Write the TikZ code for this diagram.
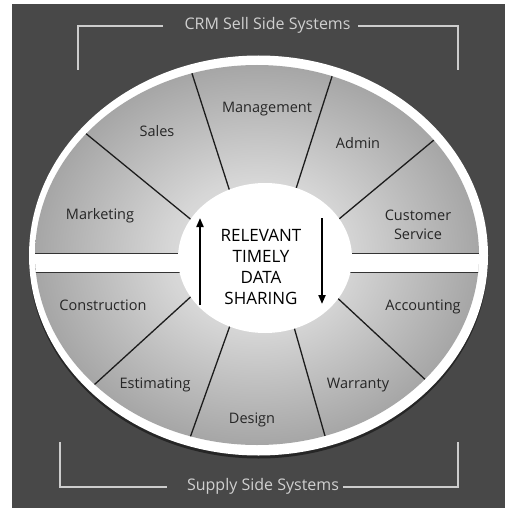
\documentclass[tikz,border=0pt]{standalone}
\usepackage{fontspec}
\setmainfont{Open Sans}
\usetikzlibrary{arrows.meta,shapes.geometric}

\definecolor{bgdark}{RGB}{72,72,72}
\definecolor{ringshadow}{RGB}{38,38,38}
\definecolor{wheelin}{RGB}{236,236,236}
\definecolor{wheelmid}{RGB}{214,214,214}
\definecolor{wheelout}{RGB}{166,166,166}
\definecolor{spokecol}{RGB}{28,28,28}
\definecolor{labelcol}{RGB}{38,38,38}
\definecolor{framecol}{RGB}{205,205,205}

% grey wheel: light near the hub, darker towards the rim
\pgfdeclareradialshading{wheelshade}{\pgfpoint{0bp}{0bp}}{%
  color(0bp)=(wheelin); color(10bp)=(wheelmid); color(25bp)=(wheelout); color(50bp)=(wheelout)}

\tikzset{
  spoke/.style={draw=spokecol, line width=1.3pt},
  bandedge/.style={draw=spokecol!90, line width=1.1pt},
  sector/.style={font=\fontsize{14.5}{19}\selectfont, text=labelcol, inner sep=0pt, align=center},
  hubtext/.style={font=\fontsize{17}{20.7}\selectfont, text=black, inner sep=0pt, align=center},
  flow/.style={draw=black, line width=2pt, -{Triangle[length=9pt,width=7pt]}},
  frame/.style={draw=framecol, line width=1.4pt},
  title/.style={font=\fontsize{16}{19}\selectfont, text=framecol!95!white, inner sep=0pt}
}

\begin{document}
\begin{tikzpicture}[x=1pt,y=-1pt]
  \useasboundingbox (0,0) rectangle (510,508);
  \fill[white] (0,0) rectangle (510,508);
  \fill[bgdark] (12,4) rectangle (505,508);

  % outer rim with a soft shadow below
  \fill[ringshadow] (258.5,258.5) ellipse [x radius=229.5pt, y radius=200pt];
  \fill[white] (258.5,255.5) ellipse [x radius=229.5pt, y radius=200pt];
  \path[shading=wheelshade] (257,255) ellipse [x radius=222pt, y radius=190pt];

  % spoke end points
  \coordinate (s1o) at (84,132);   \coordinate (s1i) at (194,222);
  \coordinate (s2o) at (188,61);   \coordinate (s2i) at (231,195);
  \coordinate (s3o) at (336,64);   \coordinate (s3i) at (294,195);
  \coordinate (s4o) at (446,130);  \coordinate (s4i) at (333,224);
  \coordinate (s5o) at (83,395);   \coordinate (s5i) at (196,292);
  \coordinate (s6o) at (186,449);  \coordinate (s6i) at (232,320);
  \coordinate (s7o) at (329,450);  \coordinate (s7i) at (292,320);
  \coordinate (s8o) at (444,397);  \coordinate (s8i) at (331,292);
  \coordinate (bandW) at (20,263);
  \coordinate (bandE) at (500,263);

  \begin{scope}
    \clip (257,255) ellipse [x radius=222pt, y radius=190pt];
    \draw[spoke] (s1o) -- (s1i);
    \draw[spoke] (s2o) -- (s2i);
    \draw[spoke] (s3o) -- (s3i);
    \draw[spoke] (s4o) -- (s4i);
    \draw[spoke] (s5o) -- (s5i);
    \draw[spoke] (s6o) -- (s6i);
    \draw[spoke] (s7o) -- (s7i);
    \draw[spoke] (s8o) -- (s8i);
    % white band splitting the two halves
    \fill[white] ([yshift=-9pt]bandW) rectangle ([yshift=9pt]bandE);
    \draw[bandedge] ([yshift=-9.5pt]bandW) -- ([yshift=-9.5pt]bandE);
    \draw[bandedge] ([yshift=9.5pt]bandW) -- ([yshift=9.5pt]bandE);
  \end{scope}

  % hub
  \node[ellipse, fill=white, inner sep=0pt, minimum width=174pt, minimum height=150pt] (hub) at (265,258) {};
  \node[hubtext] (core) at (261,267) {RELEVANT\\TIMELY\\DATA\\SHARING};

  \coordinate (upS) at (200,305);  \coordinate (upE) at (200,218);
  \coordinate (dnS) at (322,218);  \coordinate (dnE) at (322,304);
  \draw[flow] (upS) -- (upE);
  \draw[flow] (dnS) -- (dnE);

  % sector labels
  \node[sector, anchor=base] (sales) at (157,136) {Sales};
  \node[sector, anchor=base] (mgmt) at (267,112) {Management};
  \node[sector, anchor=base] (admin) at (358,148) {Admin};
  \node[sector, anchor=base] (mkt) at (100,219) {Marketing};
  \node[sector] (cust) at (418,224.5) {Customer\\Service};
  \node[sector, anchor=base] (constr) at (103,310) {Construction};
  \node[sector, anchor=base] (acct) at (423,310) {Accounting};
  \node[sector, anchor=base] (est) at (155,388) {Estimating};
  \node[sector, anchor=base] (warr) at (358,388) {Warranty};
  \node[sector, anchor=base] (design) at (252,423) {Design};

  % titles and their frames
  \node[title, anchor=base] (sell) at (267.5,30) {CRM Sell Side Systems};
  \node[title, anchor=base] (supply) at (263,490) {Supply Side Systems};

  \coordinate (tL0) at (78,70);   \coordinate (tL1) at (78,26);   \coordinate (tL2) at (163,26);
  \coordinate (tR0) at (458,70);  \coordinate (tR1) at (458,26);  \coordinate (tR2) at (358,26);
  \coordinate (bL0) at (60,442);  \coordinate (bL1) at (60,487);  \coordinate (bL2) at (167,487);
  \coordinate (bR0) at (458,442); \coordinate (bR1) at (458,487); \coordinate (bR2) at (343,487);
  \draw[frame] (tL0) -- (tL1) -- (tL2);
  \draw[frame] (tR0) -- (tR1) -- (tR2);
  \draw[frame] (bL0) -- (bL1) -- (bL2);
  \draw[frame] (bR0) -- (bR1) -- (bR2);
\end{tikzpicture}
\end{document}
